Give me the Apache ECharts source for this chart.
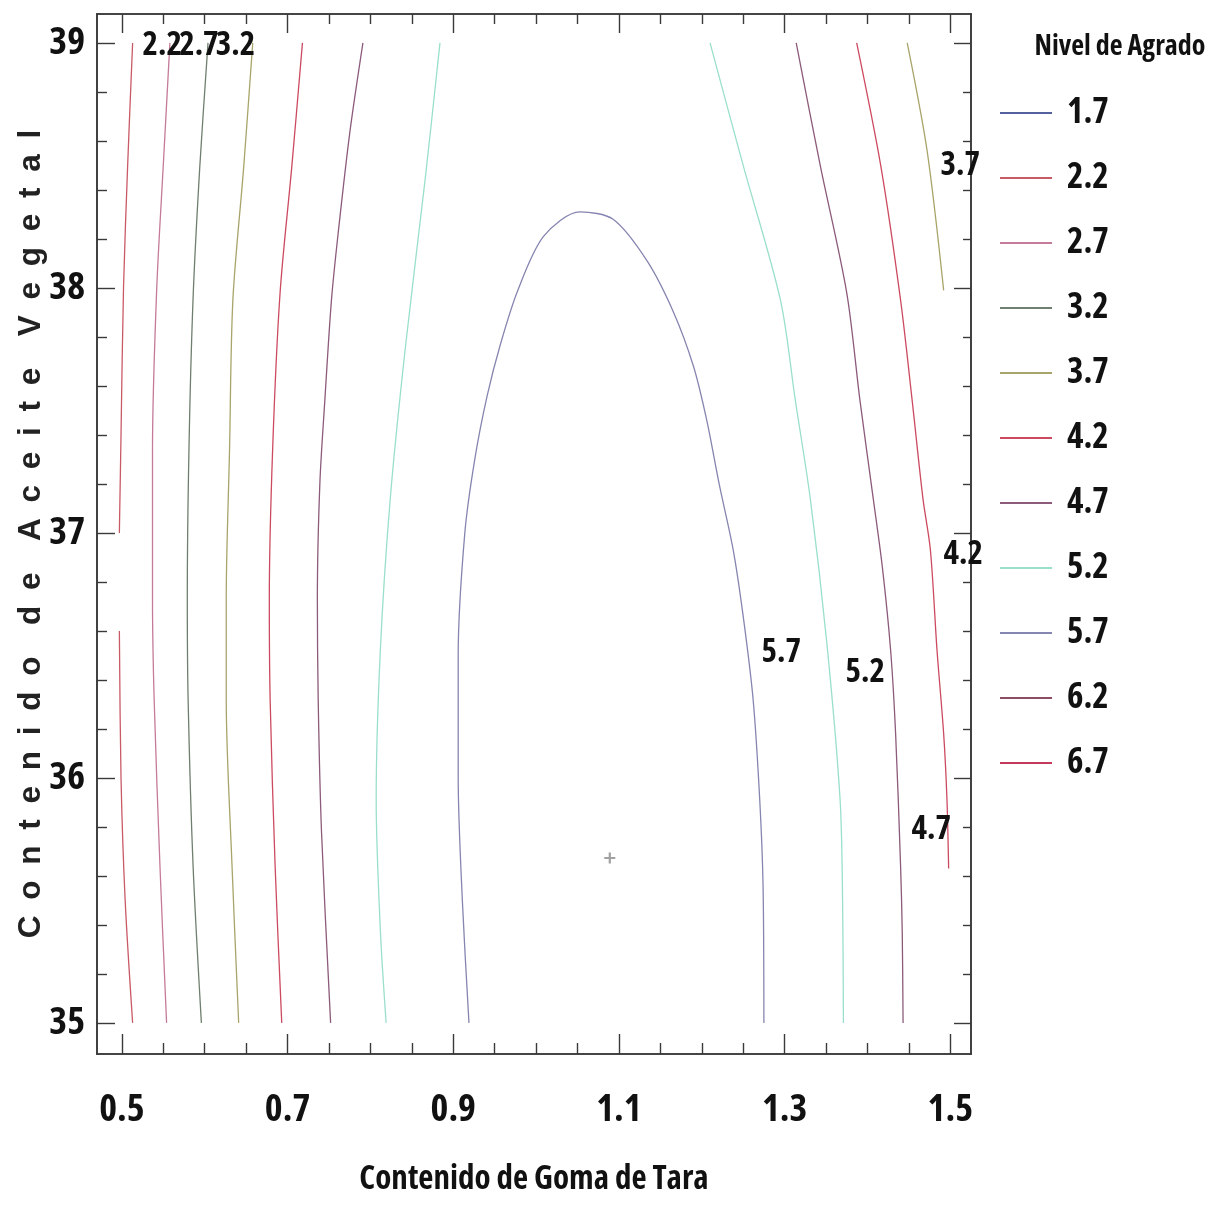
<!DOCTYPE html>
<html>
<head>
<meta charset="utf-8">
<script src="https://cdn.jsdelivr.net/npm/echarts@6/dist/echarts.min.js"></script>
<style>html,body{margin:0;padding:0;background:#fff;}#c{width:1211px;height:1205px;}</style>
</head>
<body>
<div id="c"></div>
<script>
// ---------- data ----------
const levels = ['1.7','2.2','2.7','3.2','3.7','4.2','4.7','5.2','5.7','6.2','6.7'];
const levelColors = ['#55609e','#c85a66','#c47a98','#6f7f6f','#a8a46a','#cc4a60','#8c5a7a','#9adfcc','#8585b0','#8e4c62','#c43a5a'];

const xMajorTicks = [0.5, 0.7, 0.9, 1.1, 1.3, 1.5];
const xMinorTicks = [0.55,0.6,0.65,0.75,0.8,0.85,0.95,1.0,1.05,1.15,1.2,1.25,1.35,1.4,1.45];
const yMajorTicks = [35, 36, 37, 38, 39];
const yMinorTicks = [35.2,35.4,35.6,35.8,36.2,36.4,36.6,36.8,37.2,37.4,37.6,37.8,38.2,38.4,38.6,38.8];

// contour segments [Contenido de Goma de Tara, Contenido de Aceite Vegetal]
const c22_a = [[0.513,39],[0.507,38.5],[0.502,38],[0.499,37.4],[0.497,37.0]];
const c22_b = [[0.497,36.6],[0.499,36],[0.504,35.5],[0.513,35]];
const c27 = [[0.558,39],[0.550,38.5],[0.542,37.99],[0.537,37.34],[0.537,36.73],[0.539,36.32],[0.546,35.64],[0.554,35]];
const c32 = [[0.604,39],[0.594,38.49],[0.586,37.96],[0.581,37.34],[0.579,36.73],[0.580,36.32],[0.586,35.64],[0.596,35]];
const c37_left = [[0.658,39],[0.647,38.49],[0.634,37.95],[0.630,37.34],[0.626,36.73],[0.626,36.32],[0.633,35.64],[0.641,35]];
const c42_left = [[0.718,39],[0.705,38.49],[0.691,37.98],[0.682,37.34],[0.678,36.73],[0.679,36.32],[0.685,35.64],[0.693,35]];
const c47_left = [[0.791,39],[0.775,38.63],[0.761,38.22],[0.753,37.95],[0.745,37.54],[0.739,37.2],[0.736,36.73],[0.737,36.32],[0.741,35.78],[0.752,35]];
const c52_left = [[0.884,39],[0.866,38.44],[0.842,37.75],[0.824,37.14],[0.812,36.52],[0.807,35.91],[0.812,35.38],[0.819,35]];
const c57 = [[0.919,35],[0.911,35.5],[0.906,36.0],[0.906,36.5],[0.914,37.0],[0.926,37.3],[0.941,37.56],[0.957,37.77],[0.978,37.99],[1.009,38.21],[1.053,38.31],[1.093,38.28],[1.134,38.11],[1.166,37.9],[1.190,37.68],[1.206,37.46],[1.221,37.2],[1.238,36.93],[1.250,36.66],[1.262,36.32],[1.270,35.91],[1.274,35.56],[1.275,35]];
const c52_right = [[1.210,39],[1.250,38.5],[1.295,37.95],[1.313,37.54],[1.331,37.14],[1.351,36.55],[1.367,35.91],[1.370,35.5],[1.371,35]];
const c47_right = [[1.314,39],[1.343,38.5],[1.375,37.98],[1.391,37.54],[1.407,37.14],[1.418,36.86],[1.428,36.52],[1.434,36.18],[1.440,35.64],[1.442,35.37],[1.443,35]];
const c42_right = [[1.387,39],[1.416,38.5],[1.440,37.95],[1.454,37.54],[1.467,37.14],[1.476,36.93],[1.484,36.52],[1.492,36.18],[1.496,35.91],[1.498,35.63]];
const c37_right = [[1.448,39],[1.472,38.56],[1.492,37.99]];

// contour labels
const labelTexts = ['2.2','2.7','3.2','3.7','4.2','5.7','5.2','4.7'];
const labelX = [0.5488, 0.593, 0.6372, 1.512, 1.5157, 1.2959, 1.3973, 1.477];
const labelY = [38.99, 38.99, 38.99, 38.50, 36.91, 36.51, 36.43, 35.79];

// optimum marker
const optimum = [[1.089, 35.673]];

// ---------- chart ----------
const COND = "'Open Sans', 'DejaVu Sans Condensed', sans-serif";
const COND_W = 'bold condensed';
const BOLD = "'Liberation Sans',Arial,'DejaVu Sans',sans-serif";
const segments = [
  ['2.2', c22_a], ['2.2', c22_b], ['2.7', c27], ['3.2', c32],
  ['3.7', c37_left], ['3.7', c37_right], ['4.2', c42_left], ['4.2', c42_right],
  ['4.7', c47_left], ['4.7', c47_right], ['5.2', c52_left], ['5.2', c52_right], ['5.7', c57]
];
const colorOf = n => levelColors[levels.indexOf(n)];

const series = [];
levels.forEach(n => {
  series.push({name: n, type: 'line', data: [], symbol: 'none', color: colorOf(n),
    lineStyle: {width: 1.3, color: colorOf(n)}});
});
segments.forEach(([n, d]) => {
  series.push({name: n, type: 'line', data: d, symbol: 'none', smooth: 0.3,
    color: colorOf(n), lineStyle: {width: 1.3, color: colorOf(n)}, z: 2});
});
series.push({
  name: 'labels', type: 'scatter', symbolSize: 1, itemStyle: {color: 'rgba(255,255,255,0)'},
  data: labelTexts.map((t, i) => [labelX[i], labelY[i], t]),
  label: {show: true, position: 'inside', formatter: p => p.value[2], opacity: 1,
    fontFamily: COND, fontWeight: COND_W, fontSize: 33, color: '#111', textBorderWidth: 0},
  z: 5
});
series.push({
  name: 'optimo', type: 'scatter', data: optimum,
  symbol: 'path://M4,0h2v4h4v2h-4v4h-2v-4h-4v-2h4z', symbolSize: 11,
  itemStyle: {color: '#8a8a8a'}, z: 4
});

const axisLineStyle = {color: '#3a3a3a', width: 1.6};
const xMin = 0.47, xMax = 1.525, yMin = 34.873, yMax = 39.118;
function xAx(pos, vals, len, labels) {
  return {type: 'value', position: pos, min: xMin, max: xMax, splitLine: {show: false},
    axisLine: {show: true, onZero: false, lineStyle: axisLineStyle},
    axisTick: {show: true, inside: true, length: len, customValues: vals, lineStyle: {color: '#3a3a3a', width: 1.4}},
    axisLabel: labels ? {show: true, customValues: vals, margin: 37, fontFamily: COND, fontWeight: COND_W, fontSize: 38, color: '#111',
      formatter: v => v.toFixed(1)} : {show: false},
    name: labels ? 'Contenido de Goma de Tara' : '', nameLocation: 'middle', nameGap: 109, nameMoveOverlap: false,
    nameTextStyle: {fontFamily: COND, fontWeight: COND_W, fontSize: 33, color: '#111'}};
}
function yAx(pos, vals, len, labels) {
  return {type: 'value', position: pos, min: yMin, max: yMax, splitLine: {show: false},
    axisLine: {show: true, onZero: false, lineStyle: axisLineStyle},
    axisTick: {show: true, inside: true, length: len, customValues: vals, lineStyle: {color: '#3a3a3a', width: 1.4}},
    axisLabel: labels ? {show: true, customValues: vals, margin: 12, fontFamily: COND, fontWeight: COND_W, fontSize: 38, color: '#111'} : {show: false},
    name: labels ? 'C o n t e n i d o  d e  A c e i t e  V e g e t a l'.replace(/ /g, '\u2002') : '',
    nameLocation: 'middle', nameGap: 50, nameMoveOverlap: false,
    nameTextStyle: {fontFamily: BOLD, fontWeight: 'bold', fontSize: 31.5, color: '#222'}};
}

const chart = echarts.init(document.getElementById('c'), null, {renderer: 'canvas'});
chart.setOption({
  animation: false,
  backgroundColor: '#ffffff',
  grid: {left: 97, right: 240, top: 14, bottom: 151, containLabel: false, outerBoundsMode: 'none'},
  title: {text: 'Nivel de Agrado', left: 1115, top: 28, textAlign: 'center',
    textStyle: {fontFamily: COND, fontWeight: COND_W, fontSize: 28, color: '#111'}},
  legend: {
    data: levels, orient: 'vertical', left: 1000, top: 93, padding: 0,
    itemWidth: 52, itemHeight: 14, itemGap: 25, icon: 'path://M0,6h52v2h-52z',
    textStyle: {fontFamily: COND, fontWeight: COND_W, fontSize: 35, color: '#111', lineHeight: 40, padding: [0, 0, 0, 10]},
    selectedMode: false
  },
  xAxis: [xAx('bottom', xMajorTicks, 20, true), xAx('bottom', xMinorTicks, 11, false),
          xAx('top', xMajorTicks, 19, false), xAx('top', xMinorTicks, 10, false)],
  yAxis: [yAx('left', yMajorTicks, 18, true), yAx('left', yMinorTicks, 10, false),
          yAx('right', yMajorTicks, 17, false), yAx('right', yMinorTicks, 8, false)],
  series: series
});
</script>
</body>
</html>
